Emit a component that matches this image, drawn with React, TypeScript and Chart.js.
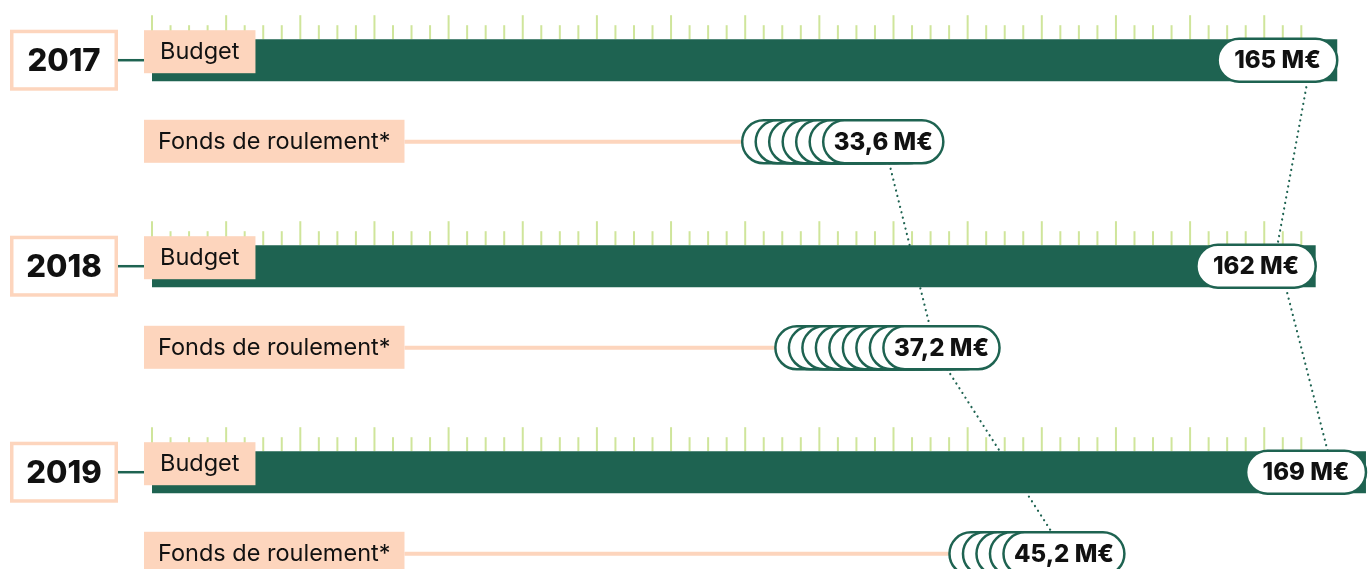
import React, { useEffect, useRef } from 'react';
import { Chart, registerables } from 'chart.js';

Chart.register(...registerables);

// ---- data ----
const years = ['2017', '2018', '2019'];
const budgetValues = [165, 162, 169];
const fondsValues = [33.6, 37.2, 45.2];
const fondsCoins = [7, 9, 5];
const budgetLabel = 'Budget';
const fondsLabel = 'Fonds de roulement*';
const unit = 'M€';
const rulerMax = 160;
const rulerIntervals = 62;

// ---- style ----
const GREEN = '#1e6351';
const PEACH = '#fdd5bd';
const TICK = '#cfe59b';
const INK = '#111111';
const FONT = 'Inter, "Noto Sans", sans-serif';
const VALUE_FONT = `800 24px ${FONT}`;
const LABEL_FONT = `23.5px ${FONT}`;
const YEAR_FONT = `800 31px ${FONT}`;

const fmt = (v: number) => `${String(v).replace('.', ',')} ${unit}`;

function pillPath(ctx: CanvasRenderingContext2D, x: number, y: number, w: number, h: number) {
  const r = h / 2;
  ctx.beginPath();
  ctx.moveTo(x + r, y);
  ctx.lineTo(x + w - r, y);
  ctx.arc(x + w - r, y + r, r, -Math.PI / 2, Math.PI / 2);
  ctx.lineTo(x + r, y + h);
  ctx.arc(x + r, y + r, r, Math.PI / 2, (3 * Math.PI) / 2);
  ctx.closePath();
}

function textWidth(ctx: CanvasRenderingContext2D, font: string, s: string) {
  ctx.save();
  ctx.font = font;
  const w = ctx.measureText(s).width;
  ctx.restore();
  return w;
}

function budgetPill(ctx: CanvasRenderingContext2D, el: any, i: number) {
  const w = textWidth(ctx, VALUE_FONT, fmt(budgetValues[i])) + 33;
  const h = el.height + 1;
  return { x: el.x - w, y: el.y - h / 2, w, h };
}

function fondsPill(ctx: CanvasRenderingContext2D, el: any, i: number) {
  const w = textWidth(ctx, VALUE_FONT, fmt(fondsValues[i])) + 21;
  const h = el.height + 1;
  const step = 13.5;
  const x = el.x - w;
  return { x, y: el.y - h / 2, w, h, start: x - (fondsCoins[i] - 1) * step, step };
}

function dotted(ctx: CanvasRenderingContext2D, x1: number, y1: number, x2: number, y2: number) {
  ctx.save();
  ctx.strokeStyle = GREEN;
  ctx.lineWidth = 2.2;
  ctx.lineCap = 'round';
  ctx.setLineDash([0.1, 5.5]);
  ctx.beginPath();
  ctx.moveTo(x1, y1);
  ctx.lineTo(x2, y2);
  ctx.stroke();
  ctx.restore();
}

const decorPlugin = {
  id: 'decor',
  beforeDatasetsDraw(chart: any) {
    const ctx: CanvasRenderingContext2D = chart.ctx;
    const xs = chart.scales.x;
    const bMeta = chart.getDatasetMeta(0);
    const fMeta = chart.getDatasetMeta(1);

    // ruler ticks above each budget bar
    ctx.save();
    ctx.strokeStyle = TICK;
    ctx.lineWidth = 2;
    bMeta.data.forEach((el: any) => {
      const top = el.y - el.height / 2;
      for (let k = 0; k <= rulerIntervals; k++) {
        const px = xs.getPixelForValue((k * rulerMax) / rulerIntervals);
        const len = k % 4 === 0 ? 24 : 14;
        ctx.beginPath();
        ctx.moveTo(px, top);
        ctx.lineTo(px, top - len);
        ctx.stroke();
      }
    });
    ctx.restore();

    // dotted connectors between years
    for (let i = 0; i < years.length - 1; i++) {
      const a = budgetPill(ctx, bMeta.data[i], i);
      const b = budgetPill(ctx, bMeta.data[i + 1], i + 1);
      dotted(ctx, a.x + a.w * 0.75, a.y + a.h, b.x + b.w * 0.68, b.y);
      const c = fondsPill(ctx, fMeta.data[i], i);
      const d = fondsPill(ctx, fMeta.data[i + 1], i + 1);
      dotted(ctx, c.x + c.w * 0.55, c.y + c.h, d.x + d.w * 0.4, d.y);
    }
  },
  afterDatasetsDraw(chart: any) {
    const ctx: CanvasRenderingContext2D = chart.ctx;
    const bMeta = chart.getDatasetMeta(0);
    const fMeta = chart.getDatasetMeta(1);
    const labelLeft = 144;

    years.forEach((year, i) => {
      const bEl = bMeta.data[i];
      const fEl = fMeta.data[i];

      // year box
      ctx.save();
      ctx.fillStyle = '#ffffff';
      ctx.fillRect(10, bEl.y - 30.5, 108, 61);
      ctx.strokeStyle = PEACH;
      ctx.lineWidth = 3.5;
      ctx.strokeRect(11.75, bEl.y - 28.75, 104.5, 57.5);
      ctx.fillStyle = INK;
      ctx.font = YEAR_FONT;
      ctx.textAlign = 'center';
      ctx.textBaseline = 'middle';
      ctx.fillText(year, 64, bEl.y + 1);
      // connector
      ctx.strokeStyle = GREEN;
      ctx.lineWidth = 2.5;
      ctx.beginPath();
      ctx.moveTo(118, bEl.y);
      ctx.lineTo(labelLeft, bEl.y);
      ctx.stroke();
      ctx.restore();

      // budget label
      ctx.save();
      ctx.font = LABEL_FONT;
      const bw = ctx.measureText(budgetLabel).width + 32;
      ctx.fillStyle = PEACH;
      ctx.fillRect(labelLeft, bEl.y - 30, bw, 43);
      ctx.fillStyle = INK;
      ctx.textBaseline = 'middle';
      ctx.fillText(budgetLabel, labelLeft + 16, bEl.y - 8);
      ctx.restore();

      // budget pill
      const bp = budgetPill(ctx, bEl, i);
      ctx.save();
      pillPath(ctx, bp.x, bp.y, bp.w, bp.h);
      ctx.fillStyle = '#ffffff';
      ctx.fill();
      ctx.strokeStyle = GREEN;
      ctx.lineWidth = 2.5;
      ctx.stroke();
      ctx.fillStyle = INK;
      ctx.font = VALUE_FONT;
      ctx.textAlign = 'center';
      ctx.textBaseline = 'middle';
      ctx.fillText(fmt(budgetValues[i]), bp.x + bp.w / 2, bp.y + bp.h / 2 + 1);
      ctx.restore();

      // fonds label
      ctx.save();
      ctx.font = LABEL_FONT;
      const fw = ctx.measureText(fondsLabel).width + 28;
      ctx.fillStyle = PEACH;
      ctx.fillRect(labelLeft, fEl.y - 22, fw, 43);
      ctx.fillStyle = INK;
      ctx.textBaseline = 'middle';
      ctx.fillText(fondsLabel, labelLeft + 14, fEl.y);
      ctx.restore();

      // fonds line + coin stack
      const fp = fondsPill(ctx, fEl, i);
      ctx.save();
      ctx.strokeStyle = PEACH;
      ctx.lineWidth = 4;
      ctx.beginPath();
      ctx.moveTo(labelLeft + fw, fEl.y);
      ctx.lineTo(fp.start + 2, fEl.y);
      ctx.stroke();
      for (let c = 0; c < fondsCoins[i]; c++) {
        const x = fp.start + c * fp.step;
        pillPath(ctx, x, fp.y, fp.w, fp.h);
        ctx.fillStyle = '#ffffff';
        ctx.fill();
        ctx.strokeStyle = GREEN;
        ctx.lineWidth = 2.5;
        ctx.stroke();
      }
      ctx.fillStyle = INK;
      ctx.font = VALUE_FONT;
      ctx.textAlign = 'center';
      ctx.textBaseline = 'middle';
      ctx.fillText(fmt(fondsValues[i]), fp.x + fp.w / 2, fp.y + fp.h / 2 + 1);
      ctx.restore();
    });
  },
};

export default function App() {
  const ref = useRef<HTMLCanvasElement | null>(null);

  useEffect(() => {
    if (!ref.current) return;
    const chart = new Chart(ref.current, {
      type: 'bar',
      data: {
        labels: years,
        datasets: [
          {
            label: budgetLabel,
            data: budgetValues,
            xAxisID: 'x',
            backgroundColor: GREEN,
            borderWidth: 0,
            categoryPercentage: 0.792,
            barPercentage: 0.515,
            clip: false as any,
          },
          {
            label: fondsLabel,
            data: fondsValues,
            xAxisID: 'x2',
            backgroundColor: 'rgba(0,0,0,0)',
            borderWidth: 0,
            categoryPercentage: 0.792,
            barPercentage: 0.515,
            clip: false as any,
          },
        ],
      },
      options: {
        indexAxis: 'y',
        responsive: false,
        animation: false,
        layout: { padding: { left: 152, right: 0, top: 101, bottom: 56 } },
        scales: {
          y: { type: 'category', display: false, offset: false, grid: { display: false } },
          x: { type: 'linear', display: false, min: 0, max: 169.7 },
          x2: { type: 'linear', display: false, min: -17.1, max: 61 },
        },
        plugins: { legend: { display: false }, tooltip: { enabled: false } },
        events: [],
      },
      plugins: [decorPlugin],
    });
    return () => chart.destroy();
  }, []);

  return (
    <div style={{ position: 'absolute', left: 0, top: 0, width: 1371, height: 569, background: '#fff' }}>
      <canvas ref={ref} width={1371} height={569} style={{ width: 1371, height: 569, display: 'block' }} />
    </div>
  );
}
